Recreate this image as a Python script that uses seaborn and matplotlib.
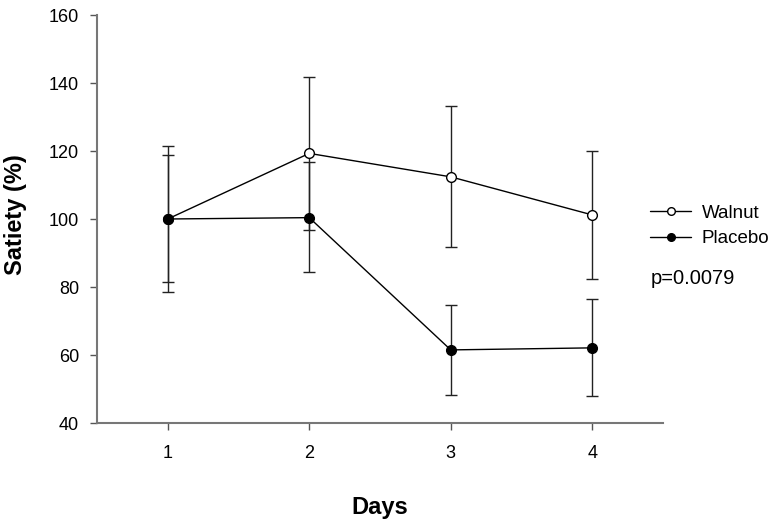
import pandas as pd
import seaborn as sns
import matplotlib.pyplot as plt

# Data
days = [1, 2, 3, 4]
walnut = [100.0, 119.3, 112.4, 101.2]
walnut_lo = [78.5, 96.8, 91.7, 82.4]
walnut_hi = [121.6, 141.7, 133.3, 120.1]
placebo = [100.0, 100.4, 61.5, 62.1]
placebo_lo = [81.6, 84.3, 48.2, 47.9]
placebo_hi = [118.8, 116.7, 74.7, 76.4]
groups = ['Walnut', 'Placebo']
y_ticks = [40, 60, 80, 100, 120, 140, 160]

df = pd.DataFrame({
    'Days': days * 2,
    'Satiety': walnut + placebo,
    'Group': ['Walnut'] * 4 + ['Placebo'] * 4,
})

sns.set_style('ticks')
plt.rcParams['font.family'] = ['Liberation Sans', 'DejaVu Sans']
plt.rcParams['text.color'] = 'black'
plt.rcParams['axes.labelcolor'] = 'black'

fig = plt.figure(figsize=(7.77, 5.23), dpi=100)
ax = fig.add_axes([97 / 777, 1 - 423 / 523, (663 - 97) / 777, (423 - 15) / 523])

# Error bars first so the markers sit on top
for mean, lo, hi in [(walnut, walnut_lo, walnut_hi), (placebo, placebo_lo, placebo_hi)]:
    err = [[m - l for m, l in zip(mean, lo)], [h - m for m, h in zip(mean, hi)]]
    ax.errorbar(days, mean, yerr=err, fmt='none', ecolor='#222222',
                elinewidth=1, capsize=4.5, capthick=1, zorder=1)

sns.lineplot(data=df, x='Days', y='Satiety', hue='Group', style='Group',
             palette={'Walnut': 'black', 'Placebo': 'black'},
             markers={'Walnut': 'o', 'Placebo': 'o'}, dashes=False,
             linewidth=1, markersize=7, ax=ax, legend=False, zorder=2)

# open vs filled markers
ax.lines[-2].set_markerfacecolor('white')
ax.lines[-2].set_markeredgecolor('black')
ax.lines[-1].set_markerfacecolor('black')
ax.lines[-1].set_markeredgecolor('black')
for ln in ax.lines[-2:]:
    ln.set_markeredgewidth(1)

ax.set_xlim(0.5, 4.5)
ax.set_ylim(40, 160)
ax.set_xticks(days)
ax.set_yticks(y_ticks)
ax.tick_params(labelsize=13, length=5, width=1, color='#555555', labelcolor='black')
ax.tick_params(axis='y', pad=8)
ax.tick_params(axis='x', pad=11)
for s in ['top', 'right']:
    ax.spines[s].set_visible(False)
for s in ['left', 'bottom']:
    ax.spines[s].set_color('#777777')
    ax.spines[s].set_linewidth(1.5)

ax.set_xlabel('Days', fontsize=17, fontweight='bold', labelpad=24)
ax.set_ylabel('Satiety (%)', fontsize=17, fontweight='bold')
ax.yaxis.set_label_coords(-70 / 566, 0.51)

# Legend
handles = [
    plt.Line2D([], [], color='black', lw=1, marker='o', markersize=5.5,
               markerfacecolor='white', markeredgecolor='black'),
    plt.Line2D([], [], color='black', lw=1, marker='o', markersize=5.5,
               markerfacecolor='black', markeredgecolor='black'),
]
fig.legend(handles, groups, loc='center left', bbox_to_anchor=(633 / 777, 1 - 226 / 523),
           frameon=False, fontsize=13.5, handlelength=2.2, labelspacing=0.45, handletextpad=0.55)
fig.text(651 / 777, 1 - 278 / 523, 'p=0.0079', fontsize=14.5, va='center', ha='left')

fig.savefig('out.png', dpi=100)
